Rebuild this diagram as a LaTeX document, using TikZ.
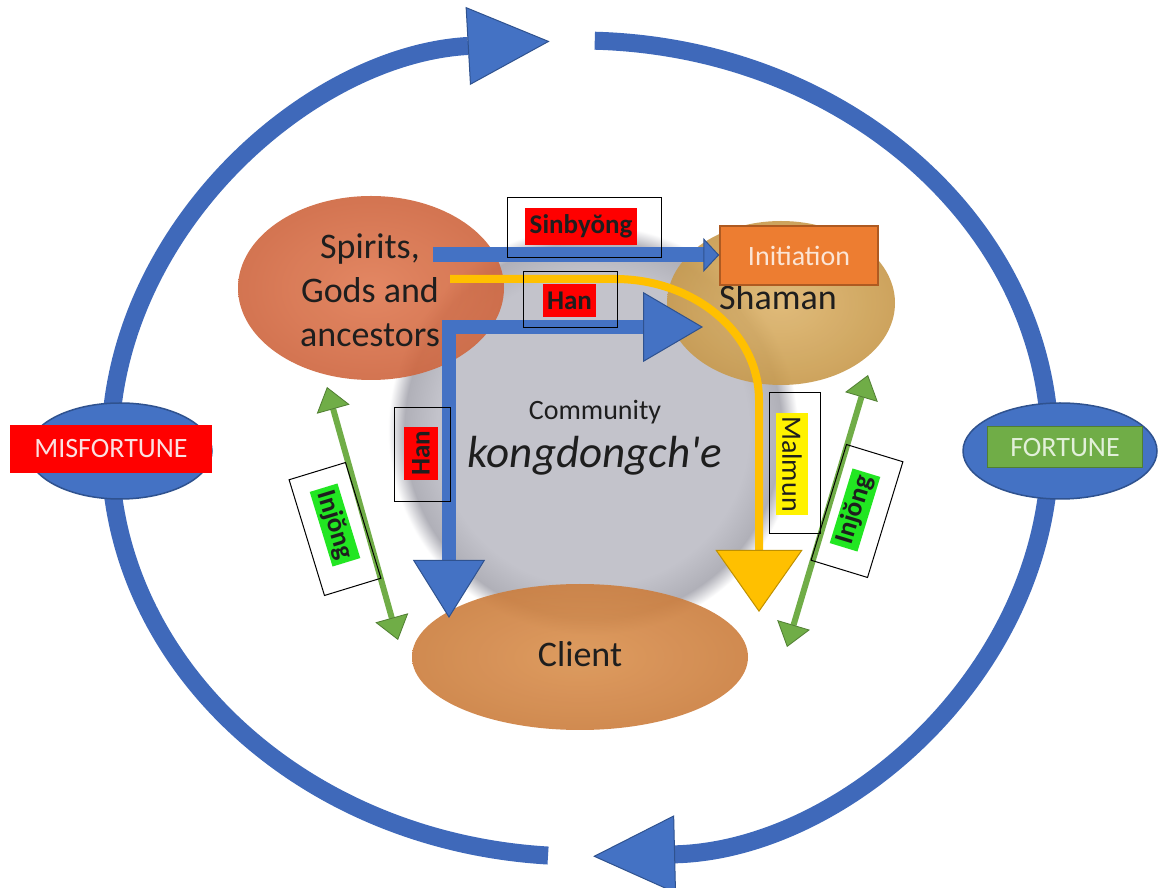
\documentclass[tikz,border=0pt]{standalone}
\usepackage{fontspec}
\setmainfont{Carlito}
\usetikzlibrary{arrows.meta,shapes.geometric}
\definecolor{cBlue}{HTML}{4472C4}
\definecolor{cRing}{HTML}{3F69BA}
\definecolor{cBlueD}{HTML}{2F528F}
\definecolor{cGreen}{HTML}{70AD47}
\definecolor{cGreenD}{HTML}{507E32}
\definecolor{cLime}{HTML}{22E622}
\definecolor{cGold}{HTML}{FFC000}
\definecolor{cGoldD}{HTML}{BF9000}
\definecolor{cOrange}{HTML}{ED7D31}
\definecolor{cOrangeD}{HTML}{AE5A21}
\definecolor{cGreyA}{HTML}{C3C3CB}
\definecolor{cGreyB}{HTML}{B0B0B8}
\definecolor{cSpirIn}{HTML}{E07A52}
\definecolor{cSpirOut}{HTML}{CF663F}
\definecolor{cShamIn}{HTML}{DDB46C}
\definecolor{cShamOut}{HTML}{C89A4C}
\definecolor{cCliIn}{HTML}{DA914F}
\definecolor{cCliOut}{HTML}{CC7E3E}
\definecolor{cText}{HTML}{1E1E1E}
\definecolor{cMisTxt}{HTML}{FBE0E0}
\definecolor{cForTxt}{HTML}{E2F0D9}
\definecolor{cInitTxt}{HTML}{FBE5D6}
\pgfdeclareradialshading{commshade}{\pgfpointorigin}{color(0bp)=(cGreyA); color(19bp)=(cGreyA); color(23bp)=(cGreyB); color(25bp)=(white); color(50bp)=(white)}
\newcommand\fsz[2]{\fontsize{#1}{#2}\selectfont}
\tikzset{
  ring/.style={line width=18pt, draw=cRing, -{Triangle[length=82pt,width=78pt,line width=1pt,fill=cBlue,color=cBlueD]}},
  blob/.style={ellipse, inner sep=0pt, shade, opacity=0.9},
  txt/.style={text=cText, inner sep=0pt},
  frame/.style={draw=black, line width=1pt, inner sep=0pt},
  lab/.style={inner sep=0pt, text=cText, font=\bfseries\fsz{27}{32}},
  greenarrow/.style={line width=6pt, draw=cGreen, {Triangle[length=23pt,width=34pt,line width=0.8pt,fill=cGreen,color=cGreenD]}-{Triangle[length=23pt,width=34pt,line width=0.8pt,fill=cGreen,color=cGreenD]}},
}
\begin{document}
\begin{tikzpicture}[x=1pt,y=1pt]
\useasboundingbox (0,0) rectangle (1163,887);
\fill[white] (0,0) rectangle (1163,887);
% outer ring
\coordinate (ringC) at (580,438.5);
\draw[ring] (ringC) ++(266.1:470 and 408) arc[start angle=266.1, end angle=93.7, x radius=470, y radius=408];
\draw[ring] (ringC) ++(88.2:470 and 408) arc[start angle=88.2, end angle=-88.4, x radius=470, y radius=408];
% misfortune / fortune
\node[ellipse, draw=cBlueD, line width=1.5pt, fill=cBlue, minimum width=184pt, minimum height=96pt, inner sep=0pt] (misE) at (120,436) {};
\node[fill=red, minimum width=202pt, minimum height=48pt, inner sep=0pt, text=cMisTxt, font=\fsz{28}{34}] (mis) at (111,438) {MISFORTUNE};
\node[ellipse, draw=cBlueD, line width=1.5pt, fill=cBlue, minimum width=194pt, minimum height=96pt, inner sep=0pt] (forE) at (1060,436) {};
\node[fill=cGreen, draw=cGreenD, line width=1pt, minimum width=155pt, minimum height=41pt, inner sep=0pt, text=cForTxt, font=\fsz{28}{34}] (for) at (1065,439.5) {FORTUNE};
% community
\node[circle, minimum size=410pt, inner sep=0pt, shade, shading=commshade] (comm) at (593,457) {};
% blobs
\node[blob, minimum width=266pt, minimum height=184pt, inner color=cSpirIn, outer color=cSpirOut] (spirits) at (371,599) {};
\node[blob, minimum width=228pt, minimum height=164pt, inner color=cShamIn, outer color=cShamOut] (shaman) at (781,584) {};
\node[blob, minimum width=336pt, minimum height=146pt, inner color=cCliIn, outer color=cCliOut] (client) at (580,230) {};
% texts
\node[txt, font=\fsz{36}{44}, align=center] (spiritsT) at (370,597) {Spirits,\\Gods and\\ancestors};
\node[txt, font=\fsz{36}{44}, anchor=base] (shamanT) at (778,577) {Shaman};
\node[txt, font=\fsz{36}{44}, anchor=base] (clientT) at (580,220) {Client};
\node[txt, font=\fsz{28}{34}, anchor=base] (commT) at (595,467) {Community};
\node[txt, font=\itshape\fsz{45}{54}, anchor=base] (kongT) at (595,419) {kongdongch\textquotesingle e};
% green arrows
\coordinate (injL1) at (327,500);
\coordinate (injL2) at (398,247);
\coordinate (injR1) at (868,512);
\coordinate (injR2) at (787,240);
\draw[greenarrow] (injL1) -- (injL2);
\draw[greenarrow] (injR1) -- (injR2);
% initiation
\node[fill=cOrange, draw=cOrangeD, line width=1.5pt, minimum width=158pt, minimum height=59pt, inner sep=0pt, text=cInitTxt, font=\fsz{28}{34}] (init) at (799,631.5) {Initiation};
% blue arrows
\coordinate (sinS) at (433,632);
\draw[line width=15pt, draw=cBlue, -{Triangle[length=16pt,width=34pt,line width=1pt,fill=cBlue,color=cBlueD]}] (sinS) -- (sinS -| init.west);
\coordinate (hanR) at (703,560);
\coordinate (hanC) at (449,560);
\coordinate (hanD) at (449,269);
\draw[line width=14pt, draw=cBlue, miter limit=10, {Triangle[length=60pt,width=70pt,line width=1pt,fill=cBlue,color=cBlueD]}-{Triangle[length=58pt,width=72pt,line width=1pt,fill=cBlue,color=cBlueD]}] (hanR) -- (hanC) -- (hanD);
% gold arrow
\coordinate (malS) at (450,608);
\coordinate (malE) at (759,275);
\draw[line width=8pt, draw=cGold, -{Triangle[length=62pt,width=87pt,line width=1pt,fill=cGold,color=cGoldD]}] (malS) -- (615,608) arc[start angle=90, end angle=0, x radius=144, y radius=121] -- (malE);
% labels
\node[frame, minimum width=154pt, minimum height=60pt] (fSin) at (584,659) {};
\node[lab, fill=red, minimum width=112pt, minimum height=37pt] (lSin) at (581,660.5) {Sinbyŏng};
\node[frame, minimum width=94pt, minimum height=56pt] (fHanT) at (570,587) {};
\node[lab, fill=red, minimum width=53pt, minimum height=33pt] (lHanT) at (569.5,586.5) {Han};
\node[frame, minimum width=56pt, minimum height=94pt] (fHanL) at (422,432) {};
\node[lab, fill=red, rotate=90, minimum width=53pt, minimum height=34pt] (lHanL) at (421,433.5) {Han};
\node[frame, minimum width=51pt, minimum height=141pt] (fMal) at (794.5,423.5) {};
\node[lab, font=\fsz{28}{32}, fill=yellow, rotate=-90, minimum width=102pt, minimum height=32pt] (lMal) at (792,423) {Malmun};
\node[frame, rotate=-73, minimum width=121pt, minimum height=59pt] (fInjL) at (335,358) {};
\node[lab, fill=cLime, rotate=-73, minimum width=78pt, minimum height=29pt] (lInjL) at (335,362) {Injŏng};
\node[frame, rotate=73, minimum width=121pt, minimum height=59pt] (fInjR) at (857,376) {};
\node[lab, fill=cLime, rotate=73, minimum width=78pt, minimum height=29pt] (lInjR) at (855,377) {Injŏng};
\end{tikzpicture}
\end{document}
